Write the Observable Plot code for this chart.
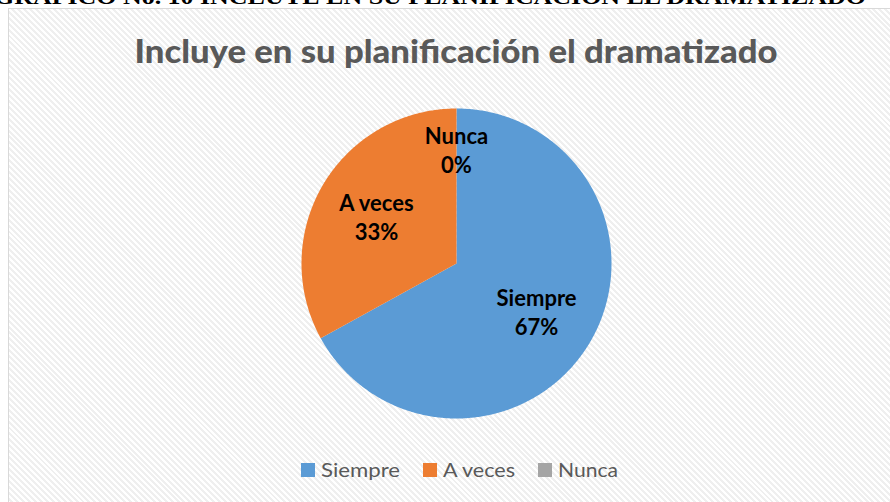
<!DOCTYPE html>
<html>
<head>
<meta charset="utf-8">
<script src="https://cdn.jsdelivr.net/npm/d3@7"></script>
<script src="https://cdn.jsdelivr.net/npm/@observablehq/plot@0.6"></script>
<style>
  html, body { margin: 0; padding: 0; background: #fff; }
  body { width: 890px; height: 502px; overflow: hidden; position: relative; }
  #box {
    position: absolute; left: 8px; top: 8px; width: 900px; height: 520px;
    border: 1px solid #d9d9d9; box-sizing: border-box;
    background: repeating-linear-gradient(45deg, #ffffff 0px, #ffffff 2.1px, #efefef 2.1px, #efefef 4.2px);
  }
  #plot, #overlay { position: absolute; left: 0; top: 0; }
  #overlay { pointer-events: none; }
</style>
</head>
<body>
<div id="box"></div>
<div id="plot"></div>
<svg id="overlay" width="890" height="502"></svg>
<script>
// ---- data ----
const categories = ["Siempre", "A veces", "Nunca"];
const values = [67, 33, 0];
const percentLabels = ["67%", "33%", "0%"];
const colors = ["#5B9BD5", "#ED7D31", "#A5A5A5"];
const chartTitle = "Incluye en su planificación el dramatizado";
const headerText = "GRÁFICO No. 10 INCLUYE EN SU PLANIFICACIÓN EL DRAMATIZADO";

// ---- build slices ----
const rows = categories.map((c, i) => ({cat: c, value: values[i], label: percentLabels[i]}));
const arcs = d3.pie().sort(null).value(d => d.value)(rows);

const polyPoints = [];
arcs.forEach(a => {
  if (a.endAngle - a.startAngle <= 0) return;
  const n = Math.max(2, Math.ceil((a.endAngle - a.startAngle) / (Math.PI / 360)));
  polyPoints.push({cat: a.data.cat, x: 0, y: 0});
  for (let k = 0; k <= n; k++) {
    const t = a.startAngle + (a.endAngle - a.startAngle) * k / n;
    polyPoints.push({cat: a.data.cat, x: Math.sin(t), y: Math.cos(t)});
  }
  polyPoints.push({cat: a.data.cat, x: 0, y: 0});
});

const labelData = arcs.map(a => {
  const mid = (a.startAngle + a.endAngle) / 2;
  const r = a.data.value === 0 ? 0.74 : 0.6;
  return {x: r * Math.sin(mid), y: r * Math.cos(mid), text: a.data.cat + "\n" + a.data.label};
});

const chart = Plot.plot({
  width: 890,
  height: 502,
  marginLeft: 301,
  marginRight: 279,
  marginTop: 108,
  marginBottom: 84,
  x: {domain: [-1, 1], axis: null},
  y: {domain: [-1, 1], axis: null},
  color: {domain: categories, range: colors},
  style: {background: "transparent", overflow: "visible"},
  marks: [
    Plot.line(polyPoints, {x: "x", y: "y", z: "cat", fill: "cat", stroke: "none", curve: "linear"}),
    Plot.text(labelData, {
      x: "x", y: "y", text: "text",
      fontSize: 22, fontWeight: "bold", fill: "#000",
      fontFamily: "Lato, 'Open Sans', sans-serif",
      lineHeight: 1.32, lineAnchor: "middle", textAnchor: "middle"
    })
  ]
});
document.getElementById("plot").appendChild(chart);

// ---- overlay: header, title, legend ----
const ov = d3.select("#overlay");
ov.append("text")
  .attr("x", -6).attr("y", 4)
  .attr("font-family", "'Liberation Serif', 'DejaVu Serif', serif")
  .attr("font-weight", "bold").attr("font-size", 20)
  .attr("fill", "#000")
  .attr("textLength", 872).attr("lengthAdjust", "spacingAndGlyphs")
  .text(headerText);

ov.append("text")
  .attr("x", 456).attr("y", 63)
  .attr("text-anchor", "middle")
  .attr("font-family", "Lato, 'Open Sans', sans-serif")
  .attr("font-weight", "900").attr("font-size", 32)
  .attr("fill", "#595959")
  .attr("textLength", 643).attr("lengthAdjust", "spacingAndGlyphs")
  .text(chartTitle);

// legend
const legendTextWidths = [79, 72, 60];
const sq = 14, gapIn = 6, gapOut = 23;
let total = 0;
categories.forEach((c, i) => { total += sq + gapIn + legendTextWidths[i] + (i < categories.length - 1 ? gapOut : 0); });
let cx = 459.5 - total / 2;
categories.forEach((c, i) => {
  ov.append("rect").attr("x", cx).attr("y", 463).attr("width", sq).attr("height", sq).attr("fill", colors[i]);
  ov.append("text")
    .attr("x", cx + sq + gapIn).attr("y", 477)
    .attr("font-family", "Lato, 'Open Sans', sans-serif")
    .attr("font-size", 19).attr("fill", "#595959")
    .attr("textLength", legendTextWidths[i]).attr("lengthAdjust", "spacingAndGlyphs")
    .text(c);
  cx += sq + gapIn + legendTextWidths[i] + gapOut;
});
</script>
</body>
</html>
